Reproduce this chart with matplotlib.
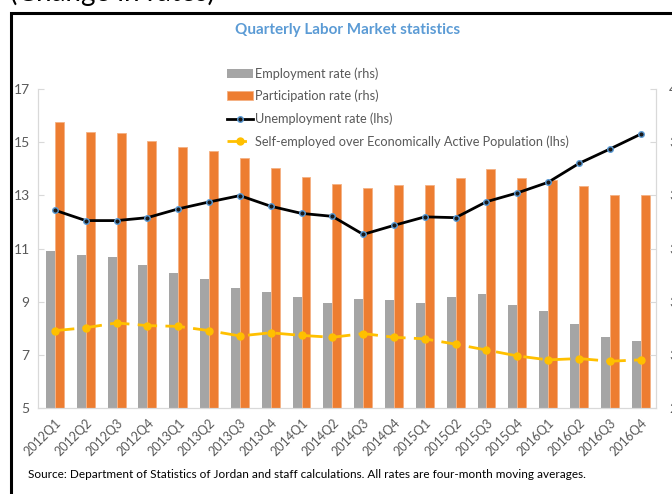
import numpy as np
import matplotlib.pyplot as plt
from matplotlib.patches import Rectangle

plt.rcParams['font.family'] = ['Lato', 'DejaVu Sans']

quarters = ['2012Q1', '2012Q2', '2012Q3', '2012Q4',
            '2013Q1', '2013Q2', '2013Q3', '2013Q4',
            '2014Q1', '2014Q2', '2014Q3', '2014Q4',
            '2015Q1', '2015Q2', '2015Q3', '2015Q4',
            '2016Q1', '2016Q2', '2016Q3', '2016Q4']

# right-hand scale (percent)
employment = [33.89, 33.74, 33.68, 33.38, 33.07, 32.85, 32.50, 32.36, 32.16, 31.96,
              32.09, 32.06, 31.96, 32.19, 32.28, 31.86, 31.65, 31.16, 30.68, 30.52]
participation = [38.76, 38.40, 38.35, 38.05, 37.82, 37.67, 37.41, 37.03, 36.69, 36.44,
                 36.28, 36.38, 36.40, 36.64, 37.00, 36.66, 36.58, 36.34, 36.00, 36.02]

# left-hand scale (percent)
unemployment = [12.44, 12.05, 12.05, 12.16, 12.49, 12.75, 12.99, 12.59, 12.32, 12.21,
                11.53, 11.87, 12.19, 12.16, 12.76, 13.09, 13.49, 14.20, 14.74, 15.30]
self_employed = [7.91, 8.02, 8.20, 8.10, 8.07, 7.91, 7.71, 7.83, 7.73, 7.66,
                 7.80, 7.66, 7.60, 7.40, 7.18, 6.96, 6.81, 6.86, 6.76, 6.81]

left_ticks = [5, 7, 9, 11, 13, 15, 17]
right_ticks = [28, 30, 32, 34, 36, 38, 40]

W, H = 672, 494
fig = plt.figure(figsize=(W / 100, H / 100), dpi=100)

# frame of the surrounding document box
fig.patches.append(Rectangle((11 / W, -0.1), 1.2, 1 - 13 / H + 0.1, transform=fig.transFigure,
                             fill=False, edgecolor='black', linewidth=2.2))
# heading of the page above, mostly cut off
fig.text(10 / W, 1 - 1 / H, '(Change in rates)', fontsize=20, ha='left', va='baseline',
         color='black')

fig.text(348 / W, 1 - 30 / H, 'Quarterly Labor Market statistics', ha='center', va='center',
         fontsize=11, fontweight='bold', color='#5B9BD5')

ax = fig.add_axes([38 / W, 1 - 408 / H, (656 - 38) / W, (408 - 89) / H])
ax2 = ax.twinx()
ax.set_zorder(2)
ax.patch.set_visible(False)

x = np.arange(len(quarters))
bw = 0.29
ax2.bar(x - bw / 2, employment, bw, color='#A5A5A5', label='Employment rate (rhs)')
ax2.bar(x + bw / 2, participation, bw, color='#ED7D31', edgecolor='#F4B183', linewidth=0.6,
        label='Participation rate (rhs)')

ax.plot(x, unemployment, color='black', linewidth=2, marker='o', markersize=4,
        markerfacecolor='#1a1a1a', markeredgecolor='#5B9BD5', markeredgewidth=1,
        label='Unemployment rate (lhs)')
ax.plot(x, self_employed, color='#FFC000', linewidth=2, dashes=(7, 3), marker='o', markersize=5,
        markerfacecolor='#FFC000', markeredgecolor='#FFC000',
        label='Self-employed over Economically Active Population (lhs)')

ax.set_xlim(-0.55, 19.5)
ax.set_ylim(5, 17)
ax.set_yticks(left_ticks)
ax2.set_ylim(28, 40)
ax2.set_yticks(right_ticks)

ax.set_xticks(x)
ax.set_xticklabels(quarters, rotation=45, ha='right', rotation_mode='anchor',
                   fontsize=9, color='#595959')
ax.tick_params(axis='x', length=0, pad=6)
ax.tick_params(axis='y', direction='in', length=4, color='#D9D9D9', labelsize=10,
               labelcolor='#595959', pad=6)
ax2.tick_params(axis='y', direction='in', length=4, color='#D9D9D9', labelsize=10,
                labelcolor='#595959', pad=9.5)

for a in (ax, ax2):
    for s in a.spines.values():
        s.set_color('#D9D9D9')
    a.spines['top'].set_visible(False)

h1, l1 = ax2.get_legend_handles_labels()
h2, l2 = ax.get_legend_handles_labels()
fig.legend(h1 + h2, l1 + l2, loc='upper left', bbox_to_anchor=(222 / W, 1 - 62 / H),
           frameon=False, fontsize=9.2, labelcolor='#595959', handlelength=2.0,
           handletextpad=0.2, labelspacing=0.8, borderaxespad=0)

fig.text(28 / W, 1 - 474 / H,
         'Source: Department of Statistics of Jordan and staff calculations. All rates are four-month moving averages.',
         fontsize=8.5, ha='left', va='center', color='black')

fig.savefig('out.png', dpi=100)
